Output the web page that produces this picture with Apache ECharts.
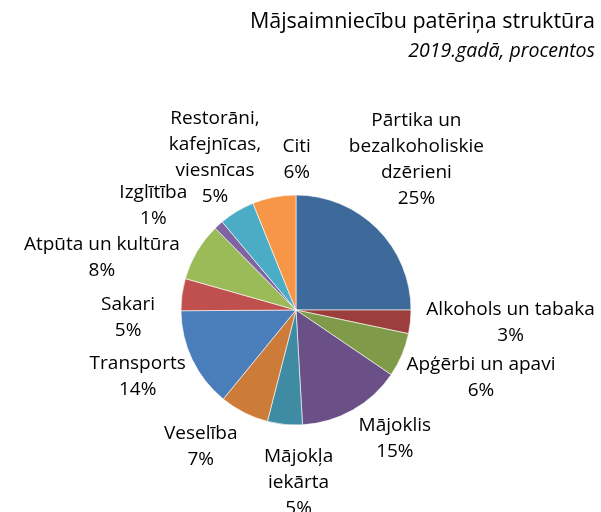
<!DOCTYPE html>
<html>
<head>
<meta charset="utf-8">
<script src="https://cdn.jsdelivr.net/npm/echarts@6/dist/echarts.min.js"></script>
<style>
  html, body { margin: 0; padding: 0; background: #fff; }
  #chart { width: 601px; height: 512px; }
</style>
</head>
<body>
<div id="chart"></div>
<script>
// kategorijas (ar rindu pārnesumiem kā oriģinālā)
const categories = [
  'Pārtika un\nbezalkoholiskie\ndzērieni',
  'Alkohols un tabaka',
  'Apģērbi un apavi',
  'Mājoklis',
  'Mājokļa\niekārta',
  'Veselība',
  'Transports',
  'Sakari',
  'Atpūta un kultūra',
  'Izglītība',
  'Restorāni,\nkafejnīcas,\nviesnīcas',
  'Citi'
]
// daļa no kopējā patēriņa, %
const shares = [25.0, 3.3, 6.2, 14.6, 4.9, 6.9, 14.0, 4.5, 8.2, 1.3, 5.0, 6.1]
const colors = [
  '#3E6A9B', '#9C3F3C', '#7F9A48', '#6A5087', '#3E8BA3', '#CD7B38',
  '#4A7EBB', '#C0504D', '#9BBB59', '#8064A2', '#4BACC6', '#F79646'
]

const font = '"Open Sans", "Noto Sans", sans-serif'
const center = [296, 310]
const radius = 115
const total = shares.reduce((a, b) => a + b, 0)

// etiķešu pārbīde (kā rokām pārvietotās etiķetes oriģinālā)
const labelNudge = [
  [-32, -14], [11, -5], [0, 0], [4, -2], [21, 14], [-8, 4],
  [-2, -8], [-22, 31], [-13, 35], [-28, 10], [27, 2], [29, -7]
]

// leņķis slices vidū, skaitot pulksteņrādītāja virzienā no augšas
function midAngle(i) {
  let before = 0
  for (let k = 0; k < i; k++) before += shares[k]
  return (before + shares[i] / 2) / total * Math.PI * 2
}

const clamp = v => Math.max(-1, Math.min(1, v))

const chart = echarts.init(document.getElementById('chart'))

chart.setOption({
  animation: false,
  title: {
    text: 'Mājsaimniecību patēriņa struktūra',
    subtext: '2019.gadā, procentos',
    left: 'right',
    top: 6,
    padding: [5, 6, 5, 5],
    itemGap: 8,
    textStyle: { fontFamily: font, fontSize: 21.5, fontWeight: 'normal', color: '#000' },
    subtextStyle: { fontFamily: font, fontSize: 19.5, fontStyle: 'italic', color: '#000' }
  },
  series: [
    {
      type: 'pie',
      center: center,
      radius: radius,
      startAngle: 90,
      clockwise: true,
      avoidLabelOverlap: false,
      itemStyle: { borderColor: '#ffffff', borderWidth: 0.6 },
      label: {
        show: true,
        position: 'outside',
        fontFamily: font,
        fontSize: 19,
        lineHeight: 26,
        color: '#000',
        formatter: p => p.name + '\n' + Math.round(p.value) + '%'
      },
      labelLine: { show: false },
      labelLayout: params => {
        const i = params.dataIndex
        const a = midAngle(i)
        const ux = Math.sin(a)
        const uy = -Math.cos(a)
        const r = radius + 5
        const w = params.labelRect.width
        const h = params.labelRect.height
        return {
          x: center[0] + ux * r + clamp(ux * 2) * w / 2 + labelNudge[i][0],
          y: center[1] + uy * r + clamp(uy * 2) * h / 2 + labelNudge[i][1],
          align: 'center',
          verticalAlign: 'middle'
        }
      },
      data: categories.map((name, i) => ({
        name: name,
        value: shares[i],
        itemStyle: { color: colors[i] }
      }))
    }
  ]
})
</script>
</body>
</html>
